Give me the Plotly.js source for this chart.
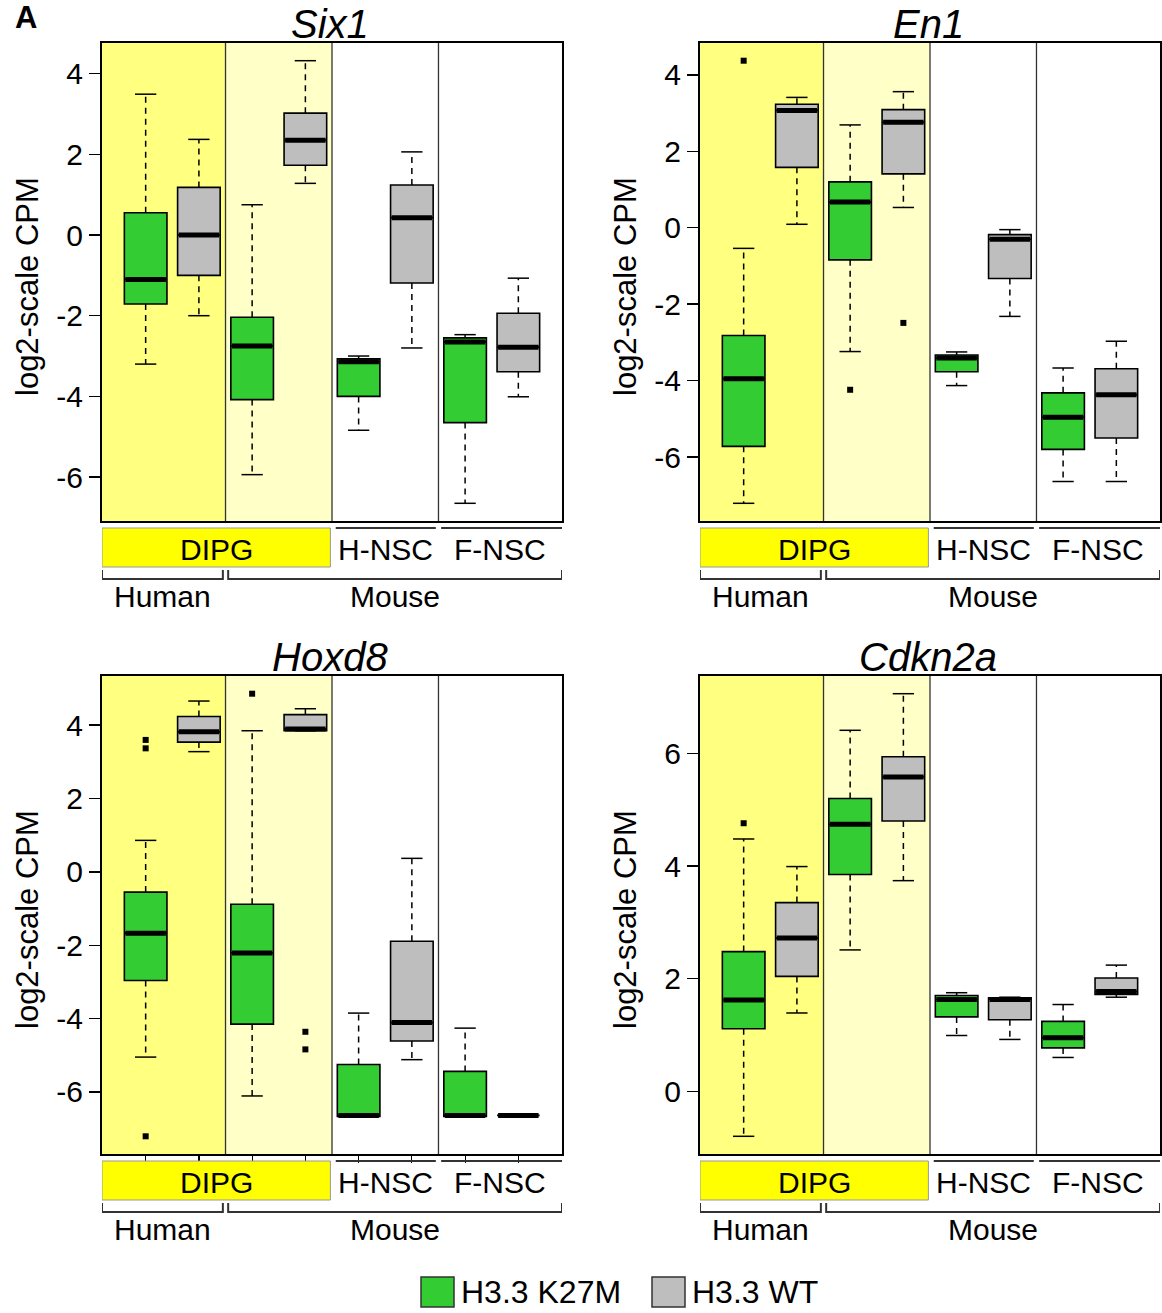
<!DOCTYPE html>
<html>
<head>
<meta charset="utf-8">
<script src="https://cdn.plot.ly/plotly-3.0.1.min.js"></script>
<style>html,body{margin:0;padding:0;background:#fff;}#chart{width:1162px;height:1313px;}</style>
</head>
<body>
<div id="chart"></div>
<script>
// ---- data: five-number summaries per group [lower whisker, q1, median, q3, upper whisker]
const groups = ["Human DIPG", "Mouse DIPG", "H-NSC", "F-NSC"];
const seriesNames = ["H3.3 K27M", "H3.3 WT"];
const seriesColors = ["#33CC33", "#BEBEBE"];
const genes = ["Six1", "En1", "Hoxd8", "Cdkn2a"];

const six1_k27m = [[-3.20, -1.71, -1.10, 0.55, 3.49], [-5.94, -4.08, -2.75, -2.04, 0.75], [-4.84, -4.00, -3.14, -3.07, -3.00], [-6.65, -4.65, -2.65, -2.55, -2.47]];
const six1_wt   = [[-2.00, -1.00, 0.00, 1.18, 2.37], [1.28, 1.73, 2.35, 3.02, 4.32], [-2.80, -1.19, 0.43, 1.24, 2.06], [-4.01, -3.39, -2.78, -1.94, -1.07]];
const six1_k27m_out = [[], [], [], []];
const six1_wt_out   = [[], [], [], []];

const en1_k27m = [[-7.21, -5.72, -3.95, -2.82, -0.54], [-3.24, -0.84, 0.67, 1.20, 2.69], [-4.13, -3.77, -3.41, -3.33, -3.25], [-6.64, -5.80, -4.96, -4.32, -3.67]];
const en1_wt   = [[0.09, 1.58, 3.07, 3.23, 3.41], [0.53, 1.41, 2.76, 3.09, 3.56], [-2.32, -1.33, -0.30, -0.18, -0.05], [-6.64, -5.50, -4.37, -3.69, -2.97]];
const en1_k27m_out = [[4.37], [-4.24], [], []];
const en1_wt_out   = [[], [-2.49], [], []];

const hoxd8_k27m = [[-5.05, -2.96, -1.67, -0.55, 0.86], [-6.11, -4.15, -2.21, -0.88, 3.85], [-6.67, -6.67, -6.64, -5.25, -3.85], [-6.67, -6.67, -6.64, -5.44, -4.26]];
const hoxd8_wt   = [[3.28, 3.54, 3.82, 4.24, 4.66], [3.85, 3.85, 3.90, 4.29, 4.45], [-5.12, -4.61, -4.11, -1.89, 0.37], [-6.64, -6.64, -6.64, -6.64, -6.64]];
const hoxd8_k27m_out = [[3.60, 3.37, -7.21], [4.86], [], []];
const hoxd8_wt_out   = [[], [-4.36, -4.84], [], []];

const cdkn2a_k27m = [[-0.80, 1.11, 1.62, 2.48, 4.48], [2.51, 3.85, 4.74, 5.20, 6.41], [0.99, 1.32, 1.63, 1.70, 1.75], [0.60, 0.77, 0.95, 1.24, 1.54]];
const cdkn2a_wt   = [[1.39, 2.04, 2.72, 3.35, 3.99], [3.74, 4.80, 5.58, 5.94, 7.06], [0.92, 1.27, 1.63, 1.66, 1.67], [1.67, 1.72, 1.77, 2.01, 2.24]];
const cdkn2a_k27m_out = [[4.76], [], [], []];
const cdkn2a_wt_out   = [[], [], [], []];

const yTickVals = [-6, -4, -2, 0, 2, 4, 6];
const labelDIPG = "DIPG", labelH = "H-NSC", labelF = "F-NSC", labelHuman = "Human", labelMouse = "Mouse";
const yTitle = "log2-scale CPM";

// ---- layout geometry (pixels)
const W = 1162, H = 1313;
const FONT = "Liberation Sans, Arial, sans-serif";
const panels = [
  {gene: genes[0], k: six1_k27m, w: six1_wt, ko: six1_k27m_out, wo: six1_wt_out, L: 102, R: 562, T: 43, B: 521, xt: false},
  {gene: genes[1], k: en1_k27m, w: en1_wt, ko: en1_k27m_out, wo: en1_wt_out, L: 700, R: 1160, T: 43, B: 521, xt: false},
  {gene: genes[2], k: hoxd8_k27m, w: hoxd8_wt, ko: hoxd8_k27m_out, wo: hoxd8_wt_out, L: 102, R: 562, T: 676, B: 1154, xt: true},
  {gene: genes[3], k: cdkn2a_k27m, w: cdkn2a_wt, ko: cdkn2a_k27m_out, wo: cdkn2a_wt_out, L: 700, R: 1160, T: 676, B: 1154, xt: false}
];
const px = p => p / W;
const py = p => 1 - p / H;

const nPos = groups.length * 2;
const xr = [0.5 - 0.04 * nPos, nPos + 0.5 + 0.04 * nPos];

const traces = [];
const shapes = [];
const annotations = [];
const layout = {
  width: W, height: H,
  margin: {l: 0, r: 0, t: 0, b: 0},
  paper_bgcolor: "#ffffff", plot_bgcolor: "rgba(0,0,0,0)",
  showlegend: false, hovermode: false,
  font: {family: FONT, color: "#000", size: 30},
  boxmode: "overlay"
};

panels.forEach((p, i) => {
  const n = i + 1;
  const xa = n === 1 ? "x" : "x" + n;
  const ya = n === 1 ? "y" : "y" + n;
  const xaKey = n === 1 ? "xaxis" : "xaxis" + n;
  const yaKey = n === 1 ? "yaxis" : "yaxis" + n;

  // y range: data extent extended 4%
  let all = [];
  [p.k, p.w].forEach(s => s.forEach(g => all = all.concat(g)));
  [p.ko, p.wo].forEach(s => s.forEach(g => all = all.concat(g)));
  const mn = Math.min(...all), mx = Math.max(...all);
  const ext = (mx - mn) * 0.04;
  const yr = [mn - ext, mx + ext];
  const tv = yTickVals.filter(v => v >= yr[0] && v <= yr[1]);

  layout[xaKey] = {
    domain: [px(p.L), px(p.R)], anchor: ya, range: xr, fixedrange: true,
    showgrid: false, zeroline: false, showline: true, mirror: true,
    linecolor: "#000", linewidth: 2,
    ticks: p.xt ? "outside" : "", ticklen: 7, tickwidth: 1.2, tickcolor: "#000",
    tickvals: Array.from({length: nPos}, (_, j) => j + 1), showticklabels: false
  };
  layout[yaKey] = {
    domain: [py(p.B), py(p.T)], anchor: xa, range: yr, fixedrange: true,
    showgrid: false, zeroline: false, showline: true, mirror: true,
    linecolor: "#000", linewidth: 2,
    ticks: "outside", ticklen: 11, tickwidth: 1.5, tickcolor: "#000",
    tickvals: tv, ticktext: tv.map(v => String(v)),
    tickfont: {family: FONT, size: 30, color: "#000"}, ticklabelstandoff: 0
  };

  // backgrounds
  shapes.push({type: "rect", xref: xa, yref: ya + " domain", x0: xr[0], x1: 2.5, y0: 0, y1: 1, fillcolor: "#FFFF80", line: {width: 0}, layer: "below"});
  shapes.push({type: "rect", xref: xa, yref: ya + " domain", x0: 2.5, x1: 4.5, y0: 0, y1: 1, fillcolor: "#FFFFC8", line: {width: 0}, layer: "below"});
  [2.5, 4.5, 6.5].forEach(v => shapes.push({type: "line", xref: xa, yref: ya + " domain", x0: v, x1: v, y0: 0, y1: 1, line: {color: "#333", width: 1.3}, layer: "below"}));

  // boxes
  [p.k, p.w].forEach((ser, si) => {
    const pos = ser.map((_, g) => 2 * g + 1 + si);
    traces.push({
      type: "box", xaxis: xa, yaxis: ya, name: seriesNames[si],
      x: pos,
      q1: ser.map(s => s[1]), median: ser.map(s => s[2]), q3: ser.map(s => s[3]),
      lowerfence: ser.map(s => s[1]), upperfence: ser.map(s => s[3]),
      width: 0.8, whiskerwidth: 0, boxpoints: false,
      fillcolor: seriesColors[si], line: {color: "#000", width: 1.6}
    });
    const wx = [], wy = [], cx = [], cy = [], mxs = [], mys = [];
    ser.forEach((s, g) => {
      const x = pos[g];
      wx.push(x, x, null, x, x, null);
      wy.push(s[3], s[4], null, s[1], s[0], null);
      cx.push(x - 0.2, x + 0.2, null, x - 0.2, x + 0.2, null);
      cy.push(s[4], s[4], null, s[0], s[0], null);
      mxs.push(x - 0.4 + 0.02, x + 0.4 - 0.02, null);
      mys.push(s[2], s[2], null);
    });
    traces.push({type: "scatter", mode: "lines", xaxis: xa, yaxis: ya, x: wx, y: wy, line: {color: "#000", width: 1.5, dash: "6px,5px"}, hoverinfo: "skip"});
    traces.push({type: "scatter", mode: "lines", xaxis: xa, yaxis: ya, x: cx, y: cy, line: {color: "#000", width: 1.5}, hoverinfo: "skip"});
    traces.push({type: "scatter", mode: "lines", xaxis: xa, yaxis: ya, x: mxs, y: mys, line: {color: "#000", width: 5}, hoverinfo: "skip"});
    const ox = [], oy = [];
    const outs = si === 0 ? p.ko : p.wo;
    outs.forEach((arr, g) => arr.forEach(v => { ox.push(pos[g]); oy.push(v); }));
    if (ox.length) traces.push({type: "scatter", mode: "markers", xaxis: xa, yaxis: ya, x: ox, y: oy, marker: {symbol: "square", size: 6, color: "#000"}, hoverinfo: "skip"});
  });

  // title
  annotations.push({text: "<i>" + p.gene + "</i>", xref: "paper", yref: "paper", x: px((p.L + p.R) / 2 - 2), y: py(p.T - 19), xanchor: "center", yanchor: "middle", showarrow: false, font: {family: FONT, size: 40, color: "#000"}});
  // y title
  annotations.push({text: yTitle, textangle: -90, xref: "paper", yref: "paper", x: px(p.L - 74), y: py((p.T + p.B) / 2 + 5), xanchor: "center", yanchor: "middle", showarrow: false, font: {family: FONT, size: 31, color: "#000"}});

  // category band below plot
  const B = p.B;
  shapes.push({type: "rect", xref: xa, yref: "paper", x0: xr[0], x1: 4.47, y0: py(B + 7), y1: py(B + 46), fillcolor: "#FFFF00", line: {color: "#999", width: 1}});
  shapes.push({type: "line", xref: xa, yref: "paper", x0: 4.57, x1: 6.45, y0: py(B + 7), y1: py(B + 7), line: {color: "#333", width: 2}});
  shapes.push({type: "line", xref: xa, yref: "paper", x0: 6.55, x1: xr[1], y0: py(B + 7), y1: py(B + 7), line: {color: "#333", width: 2}});
  annotations.push({text: labelDIPG, xref: xa, yref: "paper", x: (xr[0] + 4.47) / 2, y: py(B + 28), xanchor: "center", yanchor: "middle", showarrow: false, font: {family: FONT, size: 30, color: "#000"}});
  annotations.push({text: labelH, xref: xa, yref: "paper", x: 5.5, y: py(B + 28), xanchor: "center", yanchor: "middle", showarrow: false, font: {family: FONT, size: 30, color: "#000"}});
  annotations.push({text: labelF, xref: xa, yref: "paper", x: (6.5 + xr[1]) / 2, y: py(B + 28), xanchor: "center", yanchor: "middle", showarrow: false, font: {family: FONT, size: 30, color: "#000"}});

  // brackets
  const bracket = (a, b) => {
    shapes.push({type: "path", xref: xa, yref: "paper",
      path: `M ${a} ${py(B + 49)} L ${a} ${py(B + 58)} L ${b} ${py(B + 58)} L ${b} ${py(B + 49)}`,
      line: {color: "#333", width: 2}});
  };
  bracket(xr[0], 2.45);
  bracket(2.55, xr[1]);
  annotations.push({text: labelHuman, xref: xa, yref: "paper", x: (xr[0] + 2.45) / 2, y: py(B + 75), xanchor: "center", yanchor: "middle", showarrow: false, font: {family: FONT, size: 30, color: "#000"}});
  annotations.push({text: labelMouse, xref: xa, yref: "paper", x: (2.55 + xr[1]) / 2, y: py(B + 75), xanchor: "center", yanchor: "middle", showarrow: false, font: {family: FONT, size: 30, color: "#000"}});
});

// panel letter
annotations.push({text: "<b>A</b>", xref: "paper", yref: "paper", x: px(13), y: py(17), xanchor: "left", yanchor: "middle", height: 30, valign: "middle", showarrow: false, font: {family: FONT, size: 31, color: "#000"}});

// legend
const legX = [421, 652];
seriesNames.forEach((nm, si) => {
  shapes.push({type: "rect", xref: "paper", yref: "paper", x0: px(legX[si]), x1: px(legX[si] + 33), y0: py(1307), y1: py(1277), fillcolor: seriesColors[si], line: {color: "#333", width: 1.5}});
  annotations.push({text: nm, xref: "paper", yref: "paper", x: px(legX[si] + 38), y: py(1292), xanchor: "left", yanchor: "middle", showarrow: false, font: {family: FONT, size: 32, color: "#000"}});
});

layout.shapes = shapes;
layout.annotations = annotations;
Plotly.newPlot("chart", traces, layout, {staticPlot: true, displayModeBar: false});
</script>
</body>
</html>
